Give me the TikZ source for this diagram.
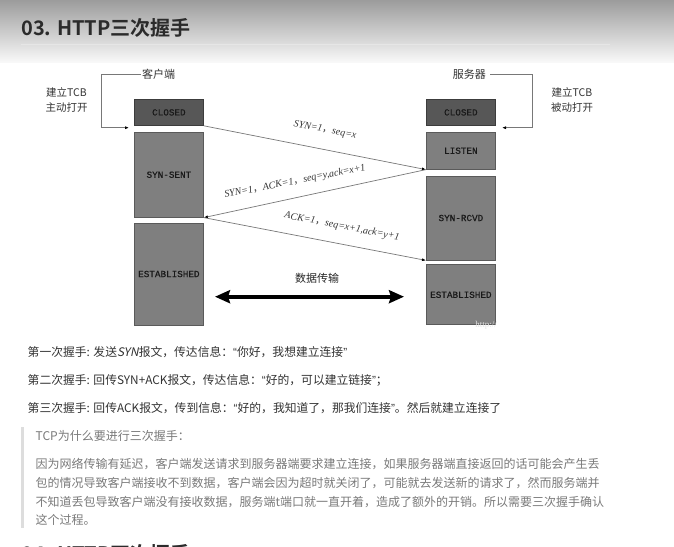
\documentclass[tikz,border=0pt]{standalone}
\usepackage{fontspec}
\setmainfont{Noto Sans CJK SC}[BoldFont={Noto Sans CJK SC Bold}]
\newfontfamily\cjk{Noto Sans CJK SC}
\newfontfamily\slantcjk{Noto Sans CJK SC}[FakeSlant=0.2]
\newfontfamily\quotefont{Liberation Sans}
\newfontfamily\boxfont{Liberation Mono}[FakeBold=0.6]
\newfontfamily\msgfont{Liberation Serif}
\usetikzlibrary{arrows.meta,positioning}
\definecolor{Ink}{HTML}{333333}
\definecolor{Title}{HTML}{2B2B2B}
\definecolor{Quote}{HTML}{7A7A7A}
\definecolor{QuoteBar}{HTML}{DDDDDD}
\definecolor{Rule}{HTML}{E6E6E6}
\definecolor{StateDark}{HTML}{575757}
\definecolor{StateDarkLine}{HTML}{3C3C3C}
\definecolor{State}{HTML}{7F7F7F}
\definecolor{StateLine}{HTML}{5A5A5A}
\definecolor{Wire}{HTML}{787878}
\definecolor{TopShade}{HTML}{9C9C9C}
\definecolor{MidShade}{HTML}{DADADA}
\definecolor{LowShade}{HTML}{F8F8F8}
\newcommand{\openq}{{\quotefont “}}
\newcommand{\closeq}{{\quotefont ”}}

\begin{document}
\begin{tikzpicture}[
  x=1pt,y=1pt,
  every node/.style={inner sep=0pt,text=Ink},
  heading/.style={anchor=base west,font=\bfseries\fontsize{20}{24}\selectfont,text=Title},
  closedbox/.style={draw=StateDarkLine,fill=StateDark,line width=0.8pt,minimum width=69pt,minimum height=26pt,font=\boxfont\fontsize{9.3}{11}\selectfont,text=black!90},
  statebox/.style={draw=StateLine,fill=State,line width=0.8pt,minimum width=69pt,font=\boxfont\fontsize{9.3}{11}\selectfont,text=black!90},
  msg/.style={font=\msgfont\itshape\fontsize{10}{12}\selectfont,text=Ink},
  wire/.style={draw=Wire,line width=0.7pt,-{Latex[length=4pt,width=3pt,color=black]}},
  bracket/.style={draw=Wire,line width=0.7pt,-{Latex[length=4pt,width=3pt,color=black]}},
  role/.style={font=\fontsize{11}{13}\selectfont},
  note/.style={font=\fontsize{10.5}{14.7}\selectfont,align=center},
  data/.style={line width=4pt,{Stealth[length=15pt,width=13pt,inset=2pt]}-{Stealth[length=15pt,width=13pt,inset=2pt]}},
  body/.style={anchor=base west,font=\fontsize{11.8}{14}\selectfont},
  quote/.style={anchor=base west,font=\fontsize{12}{14}\selectfont,text=Quote}
]
\useasboundingbox (0,0) rectangle (674,-546);
\fill[white] (0,0) rectangle (674,-546);
\shade[top color=TopShade,middle color=MidShade,bottom color=LowShade] (0,0) rectangle (674,-62);

% title
\node[heading] (title) at (21,-35) {03. HTTP三次握手};
\draw[Rule,line width=1pt] (21,-44) -- (610,-44);

% client / server
\node[role,anchor=west,inner xsep=1pt] (client) at (141,-74.7) {客户端};
\node[role,anchor=east] (server) at (486,-74.7) {服务器};
\node[note] (activeOpen) at (66.5,-100.3) {建立TCB\\主动打开};
\node[note] (passiveOpen) at (572,-100.3) {建立TCB\\被动打开};
\coordinate (clientIn) at (129,-127.7);
\coordinate (serverIn) at (502,-127.7);
\draw[bracket] (client.west) -- ++(-40,0) |- (clientIn);
\draw[bracket] ([xshift=4pt]server.east) -- ++(42,0) |- (serverIn);

% states
\node[closedbox,anchor=north west] (cClosed) at (134,-99) {CLOSED};
\node[statebox,below=6pt of cClosed,minimum height=85pt] (cSynSent) {SYN-SENT};
\node[statebox,below=5pt of cSynSent,minimum height=102pt] (cEstab) {ESTABLISHED};
\node[closedbox,anchor=north west] (sClosed) at (426,-99) {CLOSED};
\node[statebox,below=6pt of sClosed,minimum height=37pt] (sListen) {LISTEN};
\node[statebox,below=6pt of sListen,minimum height=84pt] (sSynRcvd) {SYN-RCVD};
\node[statebox,below=4pt of sSynRcvd,minimum height=60pt] (sEstab) {ESTABLISHED};
\node[font=\msgfont\fontsize{9}{10}\selectfont,text=black!10] (mark) at (486,-325) {http://};

% handshake
\draw[wire] (cClosed.south east) -- (sListen.south west);
\draw[wire] (sListen.south west) -- (cSynSent.south east);
\draw[wire] (cSynSent.south east) -- (sSynRcvd.south west);
\node[msg,rotate=-11] (msgSyn) at (325,-130) {SYN=1{\cjk\upshape，}seq=x};
\node[msg,rotate=11] (msgSynAck) at (295,-181.7) {SYN=1{\cjk\upshape，}ACK=1{\cjk\upshape，}seq=y,ack=x+1};
\node[msg,rotate=-11] (msgAck) at (342,-226.7) {ACK=1{\cjk\upshape，}seq=x+1,ack=y+1};

% data
\coordinate (dataL) at (215,-296.7);
\coordinate (dataR) at (404,-296.7);
\draw[data] (dataL) -- (dataR);
\node[font=\fontsize{11}{13}\selectfont,text=black!85] (dataLbl) at (317,-278.3) {数据传输};

% text
\node[body] (step1) at (27.5,-356) {第一次握手: 发送{\slantcjk SYN}报文，传达信息：\openq 你好，我想建立连接\closeq};
\node[body] (step2) at (27.5,-384.5) {第二次握手: 回传SYN+ACK报文，传达信息：\openq 好的，可以建立链接\closeq ；};
\node[body] (step3) at (27.5,-412.2) {第三次握手: 回传ACK报文，传到信息：\openq 好的，我知道了，那我们连接\closeq 。然后就建立连接了};

\fill[QuoteBar] (21,-426.7) rectangle (24,-528);
\node[quote] (why) at (35.5,-440.5) {TCP为什么要进行三次握手：};
\node[quote] (why1) at (35.5,-468.5) {因为网络传输有延迟，客户端发送请求到服务器端要求建立连接，如果服务器端直接返回的话可能会产生丢};
\node[quote] (why2) at (35.5,-487.8) {包的情况导致客户端接收不到数据，客户端会因为超时就关闭了，可能就去发送新的请求了，然而服务端并};
\node[quote] (why3) at (35.5,-506.2) {不知道丢包导致客户端没有接收数据，服务端t端口就一直开着，造成了额外的开销。所以需要三次握手确认};
\node[quote] (why4) at (35.5,-524.5) {这个过程。};

\begin{scope}
\clip (0,-500) rectangle (674,-546);
\node[heading] (nextTitle) at (21,-561) {04. HTTP四次挥手};
\end{scope}
\end{tikzpicture}
\end{document}
